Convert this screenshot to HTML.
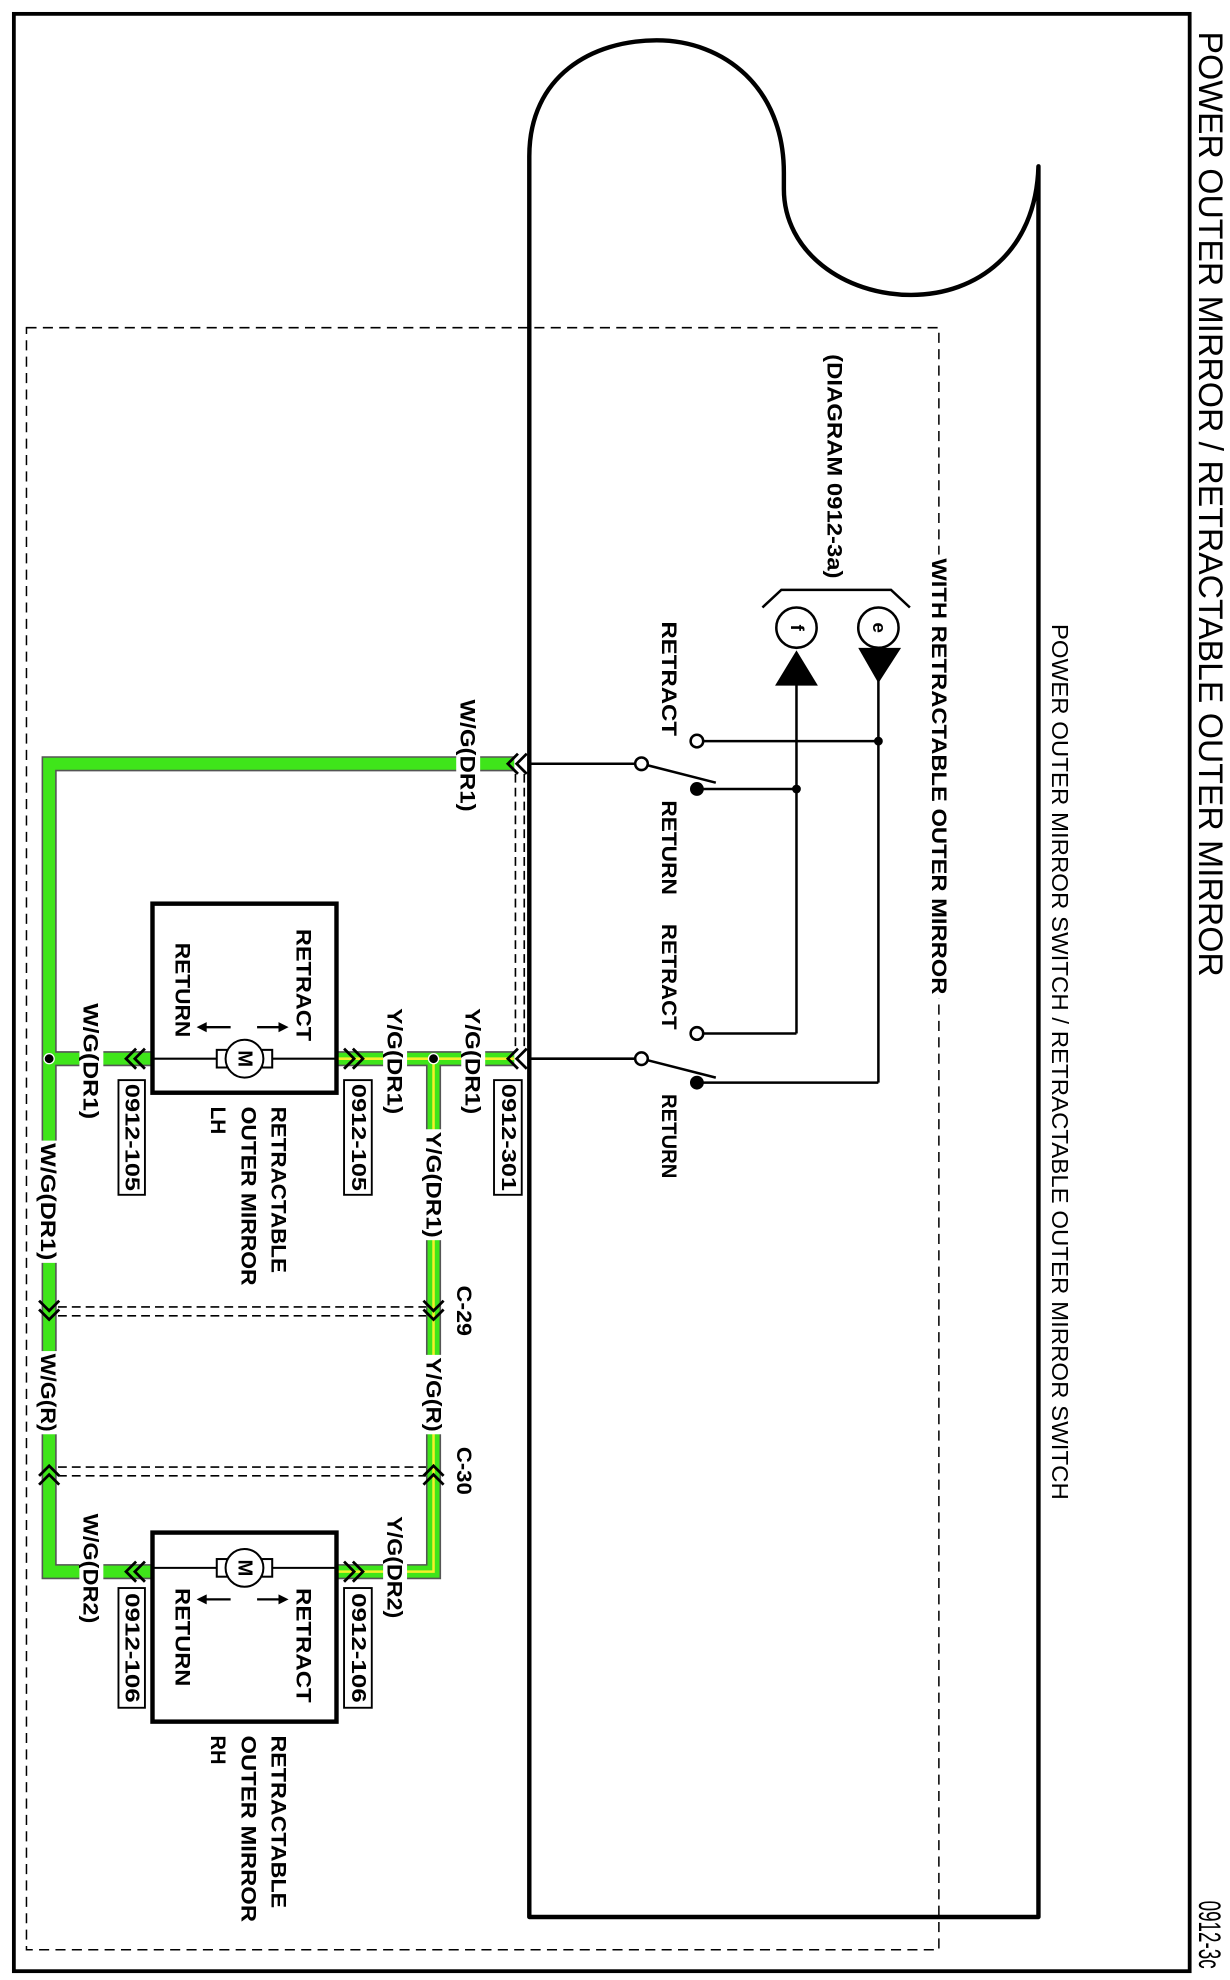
<!DOCTYPE html>
<html><head><meta charset="utf-8"><style>html,body{margin:0;padding:0;background:#fff}svg{display:block}text{font-family:"Liberation Sans",Arial,sans-serif;fill:#000}</style></head>
<body>
<svg width="1230" height="1980" viewBox="0 0 976 1571" preserveAspectRatio="none" xmlns="http://www.w3.org/2000/svg">
<rect x="0" y="0" width="976" height="1571" fill="#fff"/>
<rect x="11" y="11" width="933" height="1553" fill="none" stroke="#000" stroke-width="3"/>
<rect x="21" y="260" width="724" height="1287" fill="none" stroke="#000" stroke-width="1.2" stroke-dasharray="8,5"/>
<path d="M420,1521 L420,124 C420,60 470,32 521,32 C575,32 622,70 622,137 L622,150 C622,200 670,234 723,234 C775,234 822,200 824,132 L824,1521 Z" fill="none" stroke="#000" stroke-width="3.5" stroke-linejoin="round"/>

<g fill="none" stroke-linejoin="miter">
<path d="M408,606 L39,606 L39,1247 L121,1247 M39,840 L121,840" stroke="#555" stroke-width="12"/>
<path d="M408,840 L267,840 M344,840 L344,1247 L267,1247" stroke="#555" stroke-width="12"/>
<path d="M408,606 L39,606 L39,1247 L121,1247 M39,840 L121,840" stroke="#3fe51a" stroke-width="9.5"/>
<path d="M408,840 L267,840 M344,840 L344,1247 L267,1247" stroke="#3fe51a" stroke-width="9.5"/>
<path d="M408,840 L267,840 M344,840 L344,1247 L267,1247" stroke="#f4f02a" stroke-width="2"/>
</g>
<g stroke="#000" stroke-width="1.3" stroke-dasharray="7,4" fill="none">
<line x1="409" y1="614" x2="409" y2="834"/><line x1="416" y1="614" x2="416" y2="834"/>
<line x1="46" y1="1037" x2="338" y2="1037"/><line x1="46" y1="1044" x2="338" y2="1044"/>
<line x1="46" y1="1164" x2="338" y2="1164"/><line x1="46" y1="1171" x2="338" y2="1171"/>
</g>
<g stroke="#000" stroke-width="2.2" fill="none">
<polyline points="411,598 403,606 411,614"/><polyline points="418,598 410,606 418,614"/>
<polyline points="411,832 403,840 411,848"/><polyline points="418,832 410,840 418,848"/>
<polyline points="108,832 100,840 108,848"/><polyline points="115,832 107,840 115,848"/>
<polyline points="273,832 281,840 273,848"/><polyline points="280,832 288,840 280,848"/>
<polyline points="108,1239 100,1247 108,1255"/><polyline points="115,1239 107,1247 115,1255"/>
<polyline points="273,1239 281,1247 273,1255"/><polyline points="280,1239 288,1247 280,1255"/>
<polyline points="31,1032 39,1040 47,1032"/><polyline points="31,1039 39,1047 47,1039"/>
<polyline points="336,1032 344,1040 352,1032"/><polyline points="336,1039 344,1047 352,1039"/>
<polyline points="31,1171 39,1163 47,1171"/><polyline points="31,1178 39,1170 47,1178"/>
<polyline points="336,1171 344,1163 352,1171"/><polyline points="336,1178 344,1170 352,1178"/>
</g>
<circle cx="39" cy="840" r="4" fill="#000" stroke="#fff" stroke-width="1"/>
<circle cx="344" cy="840" r="4" fill="#000" stroke="#fff" stroke-width="1"/>

<g stroke="#000" stroke-width="2" fill="none">
<line x1="420" y1="606" x2="504" y2="606"/>
<line x1="420" y1="840" x2="504" y2="840"/>
<line x1="513" y1="607" x2="568" y2="621"/>
<line x1="513" y1="841" x2="568" y2="855"/>
<line x1="558" y1="588" x2="697" y2="588"/>
<line x1="553" y1="626" x2="632" y2="626"/>
<line x1="558" y1="820" x2="632" y2="820"/>
<line x1="553" y1="859" x2="697" y2="859"/>
<line x1="632" y1="540" x2="632" y2="820"/>
<line x1="697" y1="535" x2="697" y2="859"/>
<circle cx="509" cy="606" r="5" fill="#fff"/>
<circle cx="509" cy="840" r="5" fill="#fff"/>
<circle cx="553" cy="588" r="5" fill="#fff"/>
<circle cx="553" cy="820" r="5" fill="#fff"/>
<path d="M605,482 L620,468 L707,468 L722,482"/>
<circle cx="632" cy="498" r="16" fill="#fff"/>
<circle cx="697" cy="498" r="16" fill="#fff"/>
</g>
<circle cx="553" cy="626" r="5.5" fill="#000"/>
<circle cx="553" cy="859" r="5.5" fill="#000"/>
<circle cx="697" cy="588" r="3.5" fill="#000"/>
<circle cx="632" cy="626" r="3.5" fill="#000"/>
<polygon points="632,516 615,544 649,544" fill="#000"/>
<polygon points="681,514 715,514 697,542" fill="#000"/>
<text transform="translate(632,498) rotate(90)" font-size="15" font-weight="bold" text-anchor="middle" dominant-baseline="central">f</text>
<text transform="translate(697,498) rotate(90)" font-size="15" font-weight="bold" text-anchor="middle" dominant-baseline="central">e</text>

<g stroke="#000" fill="none">
<rect x="121" y="717" width="146" height="150" stroke-width="3.5"/>
<rect x="121" y="1216" width="146" height="150" stroke-width="3.5"/>
<line x1="121" y1="840" x2="267" y2="840" stroke-width="1.6"/>
<line x1="121" y1="1244" x2="267" y2="1244" stroke-width="1.6"/>
</g>
<g stroke="#000" stroke-width="1.6" fill="#fff">
<rect x="172" y="833" width="44" height="14"/><circle cx="194" cy="840" r="15"/>
<rect x="172" y="1237" width="44" height="14"/><circle cx="194" cy="1244" r="15"/>
</g>
<g stroke="#000" stroke-width="1.8">
<line x1="204" y1="815" x2="223" y2="815"/><line x1="160" y1="815" x2="183" y2="815"/>
<line x1="204" y1="1269" x2="223" y2="1269"/><line x1="160" y1="1269" x2="183" y2="1269"/>
</g>
<g fill="#000">
<polygon points="229,815 221,811 221,819"/><polygon points="156,815 164,811 164,819"/>
<polygon points="229,1269 221,1265 221,1273"/><polygon points="156,1269 164,1265 164,1273"/>
</g>
<text transform="translate(194,840) rotate(90)" font-size="16" text-anchor="middle" dominant-baseline="central" font-weight="bold">M</text>
<text transform="translate(194,1244) rotate(90)" font-size="16" text-anchor="middle" dominant-baseline="central" font-weight="bold">M</text>

<g fill="#fff" stroke="#000" stroke-width="1.5">
<rect x="392" y="857" width="22" height="91"/>
<rect x="94" y="857" width="21" height="91"/>
<rect x="273" y="857" width="22" height="91"/>
<rect x="94" y="1260" width="21" height="95"/>
<rect x="273" y="1260" width="22" height="95"/>
</g>

<g fill="#fff">
<rect x="362" y="553" width="19" height="93"/>
<rect x="366" y="798" width="19" height="88"/>
<rect x="304" y="798" width="19" height="88"/>
<rect x="63" y="794" width="19" height="96"/>
<rect x="29" y="905" width="19" height="97"/>
<rect x="335" y="896" width="19" height="88"/>
<rect x="29" y="1072" width="19" height="66"/>
<rect x="335" y="1075" width="19" height="63"/>
<rect x="304" y="1201" width="19" height="85"/>
<rect x="63" y="1199" width="19" height="91"/>
<rect x="736" y="440" width="19" height="352"/>
</g>

<text transform="translate(960,25) rotate(90)" font-size="27" dominant-baseline="central" textLength="750" lengthAdjust="spacingAndGlyphs">POWER OUTER MIRROR / RETRACTABLE OUTER MIRROR</text>
<text transform="translate(960,1508) rotate(90)" font-size="25" dominant-baseline="central" textLength="54" lengthAdjust="spacingAndGlyphs">0912-3c</text>
<g font-size="17" font-weight="bold" dominant-baseline="central">
<text transform="translate(841,495) rotate(90)" font-weight="normal" font-size="18" textLength="695" lengthAdjust="spacingAndGlyphs">POWER OUTER MIRROR SWITCH / RETRACTABLE OUTER MIRROR SWITCH</text>
<text transform="translate(745,443) rotate(90)" textLength="346" lengthAdjust="spacingAndGlyphs">WITH RETRACTABLE OUTER MIRROR</text>
<text transform="translate(662,281) rotate(90)" textLength="178" lengthAdjust="spacingAndGlyphs">(DIAGRAM 0912-3a)</text>
<text transform="translate(531,493) rotate(90)" textLength="91" lengthAdjust="spacingAndGlyphs">RETRACT</text>
<text transform="translate(531,635) rotate(90)" textLength="75" lengthAdjust="spacingAndGlyphs">RETURN</text>
<text transform="translate(531,733) rotate(90)" textLength="84" lengthAdjust="spacingAndGlyphs">RETRACT</text>
<text transform="translate(531,868) rotate(90)" textLength="67" lengthAdjust="spacingAndGlyphs">RETURN</text>
<text transform="translate(371,555) rotate(90)" textLength="89" lengthAdjust="spacingAndGlyphs">W/G(DR1)</text>
<text transform="translate(375,800) rotate(90)" textLength="84" lengthAdjust="spacingAndGlyphs">Y/G(DR1)</text>
<text transform="translate(313,800) rotate(90)" textLength="84" lengthAdjust="spacingAndGlyphs">Y/G(DR1)</text>
<text transform="translate(72,796) rotate(90)" textLength="92" lengthAdjust="spacingAndGlyphs">W/G(DR1)</text>
<text transform="translate(403,860) rotate(90)" font-size="16" textLength="85" lengthAdjust="spacingAndGlyphs">0912-301</text>
<text transform="translate(104.5,860) rotate(90)" font-size="16" textLength="85" lengthAdjust="spacingAndGlyphs">0912-105</text>
<text transform="translate(284,860) rotate(90)" font-size="16" textLength="85" lengthAdjust="spacingAndGlyphs">0912-105</text>
<text transform="translate(241,737) rotate(90)" textLength="89" lengthAdjust="spacingAndGlyphs">RETRACT</text>
<text transform="translate(145,748) rotate(90)" textLength="75" lengthAdjust="spacingAndGlyphs">RETURN</text>
<text transform="translate(221,878) rotate(90)" textLength="132" lengthAdjust="spacingAndGlyphs">RETRACTABLE</text>
<text transform="translate(197,878) rotate(90)" textLength="142" lengthAdjust="spacingAndGlyphs">OUTER MIRROR</text>
<text transform="translate(173,878) rotate(90)" textLength="22" lengthAdjust="spacingAndGlyphs">LH</text>
<text transform="translate(38,907) rotate(90)" textLength="93" lengthAdjust="spacingAndGlyphs">W/G(DR1)</text>
<text transform="translate(344,898) rotate(90)" textLength="84" lengthAdjust="spacingAndGlyphs">Y/G(DR1)</text>
<text transform="translate(368,1020) rotate(90)" textLength="40" lengthAdjust="spacingAndGlyphs">C-29</text>
<text transform="translate(368,1148) rotate(90)" textLength="38" lengthAdjust="spacingAndGlyphs">C-30</text>
<text transform="translate(38,1074) rotate(90)" textLength="62" lengthAdjust="spacingAndGlyphs">W/G(R)</text>
<text transform="translate(344,1077) rotate(90)" textLength="59" lengthAdjust="spacingAndGlyphs">Y/G(R)</text>
<text transform="translate(313,1203) rotate(90)" textLength="81" lengthAdjust="spacingAndGlyphs">Y/G(DR2)</text>
<text transform="translate(72,1201) rotate(90)" textLength="87" lengthAdjust="spacingAndGlyphs">W/G(DR2)</text>
<text transform="translate(104.5,1264) rotate(90)" font-size="16" textLength="87" lengthAdjust="spacingAndGlyphs">0912-106</text>
<text transform="translate(284,1264) rotate(90)" font-size="16" textLength="87" lengthAdjust="spacingAndGlyphs">0912-106</text>
<text transform="translate(241,1260) rotate(90)" textLength="91" lengthAdjust="spacingAndGlyphs">RETRACT</text>
<text transform="translate(145,1260) rotate(90)" textLength="78" lengthAdjust="spacingAndGlyphs">RETURN</text>
<text transform="translate(221,1377) rotate(90)" textLength="137" lengthAdjust="spacingAndGlyphs">RETRACTABLE</text>
<text transform="translate(197,1377) rotate(90)" textLength="148" lengthAdjust="spacingAndGlyphs">OUTER MIRROR</text>
<text transform="translate(173,1377) rotate(90)" textLength="23" lengthAdjust="spacingAndGlyphs">RH</text>
</g>
</svg>
</body></html>
